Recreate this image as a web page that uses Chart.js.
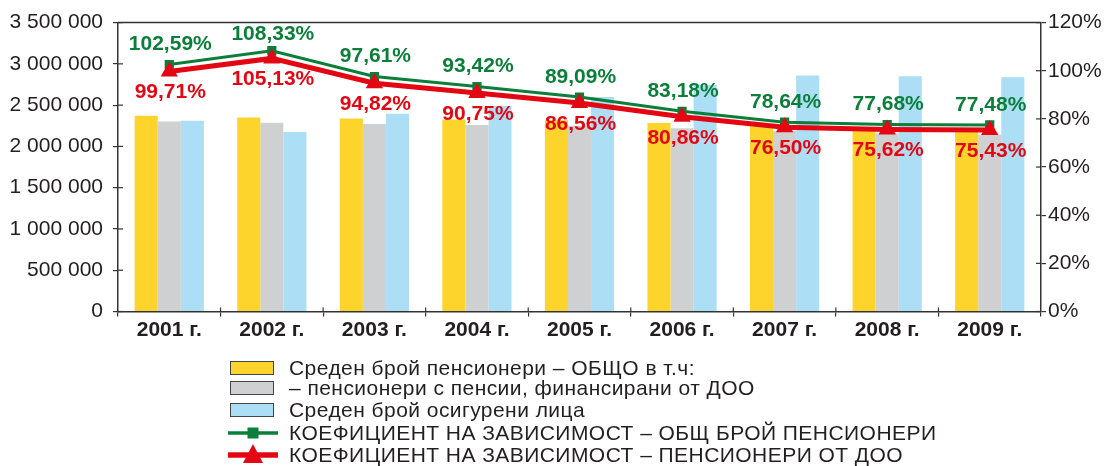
<!DOCTYPE html>
<html>
<head>
<meta charset="utf-8">
<script src="https://cdn.jsdelivr.net/npm/chart.js@4.4.1/dist/chart.umd.min.js"></script>
<style>
  html, body { margin: 0; padding: 0; background: #fff; }
  #wrap { position: relative; width: 1111px; height: 466px; }
  #legend { position: absolute; left: 0; top: 0; width: 1111px; height: 466px; pointer-events: none;
            font-family: "Liberation Sans", Arial, sans-serif; font-size: 21px; letter-spacing: 0.45px; color: #231f20; }
  .lg-row { position: absolute; left: 228px; height: 22px; line-height: 22px; white-space: nowrap; }
  .lg-sym { position: absolute; left: 0; top: 0; width: 50px; height: 22px; }
  .lg-box { position: absolute; left: 2px; top: 4px; width: 42px; height: 12px; border: 1.5px solid #444; }
  .lg-text { position: absolute; left: 61px; top: 0; }
</style>
</head>
<body>
<div id="wrap">
  <canvas id="c" width="1111" height="466"></canvas>
  <div id="legend"></div>
</div>
<script>
const categories = ['2001 г.', '2002 г.', '2003 г.', '2004 г.', '2005 г.', '2006 г.', '2007 г.', '2008 г.', '2009 г.'];
const totalPensioners = [2370000, 2350000, 2338000, 2326000, 2316000, 2283000, 2249000, 2214000, 2199000];
const dooPensioners   = [2303000, 2287000, 2271000, 2260000, 2251000, 2220000, 2188000, 2155000, 2141000];
const insuredPersons  = [2310000, 2175000, 2395000, 2490000, 2600000, 2745000, 2860000, 2850000, 2838000];
const ratioTotal = [102.59, 108.33, 97.61, 93.42, 89.09, 83.18, 78.64, 77.68, 77.48];
const ratioDoo   = [99.71, 105.13, 94.82, 90.75, 86.56, 80.86, 76.50, 75.62, 75.43];
const leftTicksMax = 3500000, leftStep = 500000;
const rightTicksMax = 120, rightStep = 20;

const seriesNames = [
  'Среден брой пенсионери – ОБЩО в т.ч:',
  '– пенсионери с пенсии, финансирани от ДОО',
  'Среден брой осигурени лица',
  'КОЕФИЦИЕНТ НА ЗАВИСИМОСТ – ОБЩ БРОЙ ПЕНСИОНЕРИ',
  'КОЕФИЦИЕНТ НА ЗАВИСИМОСТ – ПЕНСИОНЕРИ ОТ ДОО'
];

const YELLOW = '#fdd42b', GRAY = '#cfd0d2', BLUE = '#acdef6', GREEN = '#0b7f3a', RED = '#e30713';
const AXIS = '#333333', TXT = '#231f20';
const FONT = '"Liberation Sans", Arial, sans-serif';

function fmtThousands(v) {
  return String(v).replace(/\B(?=(\d{3})+(?!\d))/g, ' ');
}
function fmtPct(v) {
  return v.toFixed(2).replace('.', ',') + '%';
}

const labelPlugin = {
  id: 'pointLabels',
  afterDatasetsDraw(chart) {
    const ctx = chart.ctx;
    ctx.save();
    ctx.font = 'bold 21px ' + FONT;
    ctx.textAlign = 'center';
    ctx.textBaseline = 'middle';
    chart.data.datasets.forEach((ds, di) => {
      if (ds.type !== 'line') return;
      const meta = chart.getDatasetMeta(di);
      meta.data.forEach((pt, i) => {
        const txt = fmtPct(ds.data[i]);
        let y;
        if (ds.labelSide === 'above') {
          y = Math.max(pt.y - 20, chart.chartArea.top + 12);
        } else {
          y = pt.y + 21;
        }
        ctx.fillStyle = ds.borderColor;
        ctx.fillText(txt, pt.x + 1, y);
      });
    });
    ctx.restore();
  }
};

const framePlugin = {
  id: 'frame',
  beforeDatasetsDraw(chart) {
    const ctx = chart.ctx, a = chart.chartArea;
    ctx.save();
    ctx.strokeStyle = AXIS;
    ctx.lineWidth = 1.5;
    ctx.beginPath();
    ctx.moveTo(a.left, a.top);
    ctx.lineTo(a.right, a.top);
    ctx.stroke();
    ctx.lineWidth = 1.2;
    const y = chart.scales.y, y2 = chart.scales.y2;
    y.ticks.forEach((t, i) => {
      const py = y.getPixelForTick(i);
      ctx.beginPath(); ctx.moveTo(a.left, py); ctx.lineTo(a.left + 5, py); ctx.stroke();
    });
    y2.ticks.forEach((t, i) => {
      const py = y2.getPixelForTick(i);
      ctx.beginPath(); ctx.moveTo(a.right, py); ctx.lineTo(a.right - 5, py); ctx.stroke();
    });
    const n = categories.length;
    const w = (a.right - a.left) / n;
    for (let i = 1; i < n; i++) {
      const px = a.left + w * i;
      ctx.beginPath(); ctx.moveTo(px, a.bottom); ctx.lineTo(px, a.bottom - 4); ctx.stroke();
    }
    ctx.restore();
  }
};

const htmlLegendPlugin = {
  id: 'htmlLegend',
  afterUpdate(chart) {
    const host = document.getElementById('legend');
    host.innerHTML = '';
    const items = chart.options.plugins.legend.labels.generateLabels(chart)
      .slice().sort((p, q) => p.datasetIndex - q.datasetIndex);
    const centers = [368, 388, 410, 433, 455];
    items.forEach((item, k) => {
      const ds = chart.data.datasets[item.datasetIndex];
      const row = document.createElement('div');
      row.className = 'lg-row';
      row.style.top = (centers[k] - 11) + 'px';
      const sym = document.createElement('div');
      sym.className = 'lg-sym';
      if (ds.type === 'line') {
        const c = ds.borderColor;
        let marker;
        if (ds.pointStyle === 'rect') {
          marker = `<rect x="19.5" y="5.5" width="11" height="11" fill="${c}"/>`;
        } else {
          marker = `<polygon points="25,0 35,19 15,19" fill="${c}"/>`;
        }
        sym.innerHTML = `<svg width="50" height="22" viewBox="0 0 50 22"><line x1="0" y1="11" x2="50" y2="11" stroke="${c}" stroke-width="${ds.borderWidth + 0.5}"/>${marker}</svg>`;
      } else {
        const b = document.createElement('div');
        b.className = 'lg-box';
        b.style.background = ds.backgroundColor;
        sym.appendChild(b);
      }
      const t = document.createElement('span');
      t.className = 'lg-text';
      t.textContent = item.text;
      row.appendChild(sym);
      row.appendChild(t);
      host.appendChild(row);
    });
  }
};

const ctx = document.getElementById('c').getContext('2d');
new Chart(ctx, {
  data: {
    labels: categories,
    datasets: [
      { type: 'bar', label: seriesNames[0], data: totalPensioners, backgroundColor: YELLOW, yAxisID: 'y', order: 3 },
      { type: 'bar', label: seriesNames[1], data: dooPensioners, backgroundColor: GRAY, yAxisID: 'y', order: 3 },
      { type: 'bar', label: seriesNames[2], data: insuredPersons, backgroundColor: BLUE, yAxisID: 'y', order: 3 },
      { type: 'line', label: seriesNames[3], data: ratioTotal, yAxisID: 'y2', order: 1,
        borderColor: GREEN, backgroundColor: GREEN, borderWidth: 3, tension: 0,
        pointStyle: 'rect', pointRadius: 6.5, pointBackgroundColor: GREEN, pointBorderWidth: 0, labelSide: 'above' },
      { type: 'line', label: seriesNames[4], data: ratioDoo, yAxisID: 'y2', order: 0,
        borderColor: RED, backgroundColor: RED, borderWidth: 5, tension: 0,
        pointStyle: 'triangle', pointRadius: 10, pointBackgroundColor: RED, pointBorderWidth: 0, labelSide: 'below' }
    ]
  },
  options: {
    responsive: false,
    animation: false,
    devicePixelRatio: 1,
    layout: { padding: { top: 21, bottom: 114.5, left: 0, right: 0 } },
    datasets: { bar: { categoryPercentage: 0.675, barPercentage: 1.0 } },
    plugins: {
      legend: { display: false },
      tooltip: { enabled: false }
    },
    scales: {
      x: {
        type: 'category',
        offset: true,
        grid: { display: true, drawOnChartArea: false, drawTicks: true, tickLength: 5, color: AXIS, lineWidth: 1.2, offset: true },
        border: { display: true, color: AXIS, width: 1.5 },
        ticks: { color: TXT, font: { family: FONT, size: 21, weight: 'bold' }, padding: 1, maxRotation: 0, autoSkip: false },
        afterFit(s) { s.height = 40; }
      },
      y: {
        position: 'left',
        min: 0, max: leftTicksMax,
        grid: { display: true, drawOnChartArea: false, drawTicks: true, tickLength: 5, color: AXIS, lineWidth: 1.2 },
        border: { display: true, color: AXIS, width: 1.5 },
        ticks: { stepSize: leftStep, color: TXT, font: { family: FONT, size: 21 }, padding: 10, callback: v => fmtThousands(v) },
        afterFit(s) { s.width = 118; }
      },
      y2: {
        position: 'right',
        min: 0, max: rightTicksMax,
        grid: { display: true, drawOnChartArea: false, drawTicks: true, tickLength: 5, color: AXIS, lineWidth: 1.2 },
        border: { display: true, color: AXIS, width: 1.5 },
        ticks: { stepSize: rightStep, color: TXT, font: { family: FONT, size: 21 }, padding: 2, callback: v => v + '%' },
        afterFit(s) { s.width = 70; }
      }
    }
  },
  plugins: [framePlugin, labelPlugin, htmlLegendPlugin]
});
</script>
</body>
</html>
